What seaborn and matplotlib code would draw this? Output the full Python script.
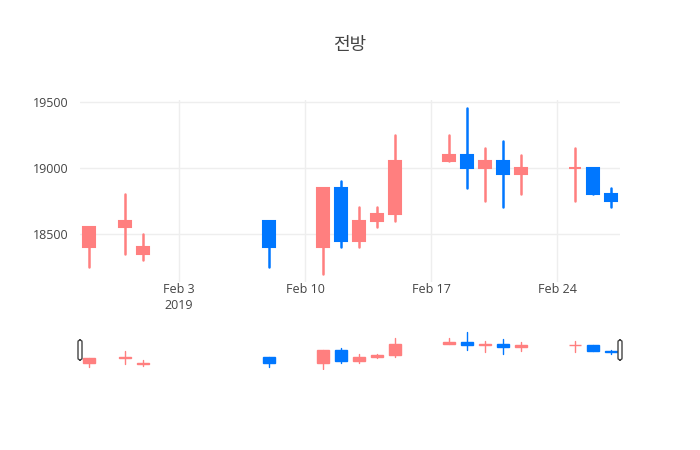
import pandas as pd
import numpy as np
import seaborn as sns
import matplotlib
matplotlib.use('Agg')
import matplotlib.pyplot as plt
import matplotlib.dates as mdates
from matplotlib.patches import FancyBboxPatch

# 데이터
dates = ['2019-01-29', '2019-01-31', '2019-02-01', '2019-02-08', '2019-02-11',
         '2019-02-12', '2019-02-13', '2019-02-14', '2019-02-15', '2019-02-18',
         '2019-02-19', '2019-02-20', '2019-02-21', '2019-02-22', '2019-02-25',
         '2019-02-26', '2019-02-27']
opens = [18400, 18550, 18350, 18600, 18400, 18850, 18450, 18600, 18650, 19050,
         19100, 19000, 19050, 18950, 19000, 19000, 18800]
highs = [18550, 18800, 18500, 18600, 18850, 18900, 18700, 18700, 19250, 19250,
         19450, 19150, 19200, 19100, 19150, 19000, 18850]
lows = [18250, 18350, 18300, 18250, 18200, 18400, 18400, 18550, 18600, 19050,
        18850, 18750, 18700, 18800, 18750, 18800, 18700]
closes = [18550, 18600, 18400, 18400, 18850, 18450, 18600, 18650, 19050, 19100,
          19000, 19050, 18950, 19000, 19000, 18800, 18750]

tick_dates = ['2019-02-03', '2019-02-10', '2019-02-17', '2019-02-24']
tick_labels = ['Feb 3\n2019', 'Feb 10', 'Feb 17', 'Feb 24']

UP = '#ff7f7f'
DOWN = '#0077ff'

df = pd.DataFrame({'date': pd.to_datetime(dates), 'open': opens, 'high': highs,
                   'low': lows, 'close': closes})
df['x'] = mdates.date2num(df['date'])
df['dir'] = np.where(df['close'] >= df['open'], 'up', 'down')

# 심지용 long 형식
wick = pd.concat([df[['x', 'dir', 'high']].rename(columns={'high': 'price'}),
                  df[['x', 'dir', 'low']].rename(columns={'low': 'price'})])

sns.set_theme(style='white')
plt.rcParams['font.family'] = ['Open Sans', 'Noto Sans CJK KR', 'DejaVu Sans']

fig = plt.figure(figsize=(7, 4.5), dpi=100)
ax = fig.add_axes([80 / 700, 1 - 282 / 450, 540 / 700, 182 / 450])
ax_s = fig.add_axes([80 / 700, 1 - 370 / 450, 540 / 700, 40 / 450])

xmin = mdates.date2num(pd.Timestamp('2019-01-28 12:00'))
xmax = mdates.date2num(pd.Timestamp('2019-02-27 12:00'))
palette = {'up': UP, 'down': DOWN}


def candles(a, lw, elw):
    sns.lineplot(data=wick, x='x', y='price', hue='dir', units='x', estimator=None,
                 palette=palette, linewidth=lw, legend=False, ax=a, zorder=2)
    bottom = df[['open', 'close']].min(axis=1)
    height = (df['close'] - df['open']).abs()
    a.bar(df['x'], height, bottom=bottom, width=0.7,
          color=df['dir'].map(palette), edgecolor=df['dir'].map(palette),
          linewidth=elw, zorder=3)
    a.set_xlim(xmin, xmax)


candles(ax, 1.8, 1.5)
ax.set_ylim(18137, 19512)
ax.set_yticks([18500, 19000, 19500])
ax.set_yticklabels(['18500', '19000', '19500'])
ax.set_xticks(mdates.date2num(pd.to_datetime(tick_dates)))
ax.set_xticklabels(tick_labels, linespacing=1.25)
ax.grid(True, color='#eeeeee', linewidth=1)
ax.set_axisbelow(True)
ax.tick_params(length=0, labelsize=9, colors='#444444')
ax.tick_params(axis='x', pad=1)
ax.tick_params(axis='y', pad=8)
ax.set_xlabel('')
ax.set_ylabel('')
sns.despine(ax=ax, left=True, bottom=True)

candles(ax_s, 1.0, 1.0)
ax_s.set_ylim(18150, 19520)
ax_s.set_xticks([])
ax_s.set_yticks([])
ax_s.set_xlabel('')
ax_s.set_ylabel('')
sns.despine(ax=ax_s, left=True, bottom=True)

# 범위 슬라이더 손잡이
for hx in (80, 620):
    fig.patches.append(FancyBboxPatch(((hx - 2) / 700, 1 - 360 / 450), 4 / 700, 20 / 450,
                                      boxstyle='round,pad=0,rounding_size=0.004',
                                      transform=fig.transFigure, facecolor='white',
                                      edgecolor='#444444', linewidth=1, zorder=5))

fig.text(0.5, 1 - 45 / 450, '전방', ha='center', va='center', fontsize=13,
         color='#444444', family=['Noto Sans CJK KR', 'DejaVu Sans'])

fig.savefig('out.png', dpi=100, facecolor='white')
